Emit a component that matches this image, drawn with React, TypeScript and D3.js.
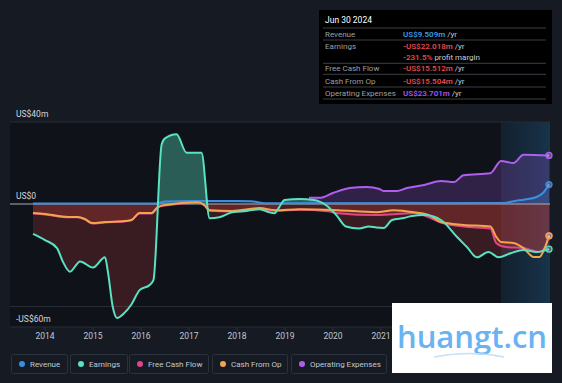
import React from "react";
import * as d3 from "d3";

type P = [number, number];

const revenue: P[] = [
  [2013.75, 0.3], [2016.3, 0.3], [2016.5, 1.2], [2017.0, 1.5], [2018.0, 1.5], [2018.3, 1.3],
  [2018.6, 0.4], [2023.55, 0.5], [2023.8, 1.5], [2024.0, 2.2], [2024.24, 3.4], [2024.38, 5.5], [2024.5, 9.5],
];

const earnings: P[] = [
  [2013.75, -14.6], [2014.0, -17.6], [2014.25, -21.5], [2014.37, -28], [2014.52, -33], [2014.73, -28],
  [2015.0, -31], [2015.25, -26], [2015.31, -33], [2015.41, -50], [2015.5, -55.6], [2015.66, -53],
  [2015.8, -49], [2015.97, -42], [2016.18, -39.5], [2016.26, -37], [2016.43, 29], [2016.5, 32],
  [2016.74, 34], [2016.95, 25], [2017.26, 25], [2017.43, -7], [2017.63, -6.5], [2017.9, -4],
  [2018.2, -3.4], [2018.47, -2.5], [2018.67, -4], [2018.78, -4.5], [2018.88, -1.5], [2018.99, 2],
  [2019.3, 2.4], [2019.6, 2], [2019.85, -0.5], [2020.07, -5.4], [2020.27, -11], [2020.54, -12],
  [2020.75, -11], [2020.9, -11.5], [2021.06, -11.7], [2021.23, -7.8], [2021.48, -6.8], [2021.64, -5.9],
  [2021.9, -5.4], [2022.25, -7.8], [2022.58, -16], [2022.79, -21], [2023.0, -26], [2023.24, -23.4],
  [2023.45, -26], [2023.7, -24], [2023.97, -22.4], [2024.24, -23.4], [2024.5, -22.0],
];

const freeCashFlow: P[] = [
  [2013.75, -4.6], [2014.0, -5.1], [2014.48, -6.5], [2014.68, -6.5], [2014.83, -7.5], [2014.98, -9.5],
  [2015.25, -9], [2015.66, -8.5], [2015.8, -8], [2015.97, -4.6], [2016.22, -4.6], [2016.35, -1.7],
  [2016.5, -0.7], [2017.18, 0.6], [2017.32, -0.7], [2017.43, -3.3], [2017.9, -3.7], [2018.47, -2.3],
  [2018.8, -3.3], [2019.3, -2.8], [2019.9, -3.5], [2020.1, -4.5], [2020.9, -5.4], [2021.27, -5],
  [2021.69, -4.4], [2022.0, -6.5], [2022.25, -9], [2022.72, -11], [2023.28, -12], [2023.4, -19],
  [2023.6, -21], [2023.97, -21.5], [2024.3, -23.4], [2024.42, -21], [2024.5, -15.5],
];

const cashFromOp: P[] = [
  [2013.75, -4.4], [2014.0, -4.9], [2014.48, -6.3], [2014.68, -6.3], [2014.83, -7.3], [2014.98, -9.3],
  [2015.25, -8.8], [2015.66, -8.3], [2015.8, -7.8], [2015.97, -4.4], [2016.22, -4.4], [2016.35, -1.5],
  [2016.5, -0.5], [2017.18, 0.8], [2017.32, -0.5], [2017.43, -3], [2017.9, -3.4], [2018.47, -2],
  [2018.8, -3], [2019.3, -2.5], [2020.1, -3], [2020.9, -4], [2021.27, -3], [2021.69, -4],
  [2022.0, -5.4], [2022.25, -8.8], [2022.72, -10.2], [2023.28, -11], [2023.4, -16], [2023.5, -18.5],
  [2023.76, -19], [2023.97, -21.5], [2024.18, -25.8], [2024.3, -25.8], [2024.42, -21], [2024.5, -15.5],
];

const operatingExpenses: P[] = [
  [2019.5, 3], [2019.72, 3], [2020.0, 5.4], [2020.35, 7.8], [2020.7, 8.3], [2020.97, 7.3],
  [2021.06, 6.3], [2021.33, 6.3], [2021.54, 7.8], [2021.9, 9.3], [2022.25, 11.2], [2022.52, 10.7],
  [2022.72, 14], [2023.28, 15], [2023.5, 21], [2023.76, 20], [2023.97, 24], [2024.5, 23.7],
];

const yearTicks = [2014, 2015, 2016, 2017, 2018, 2019, 2020, 2021];
const yLabels: { v: number; text: string }[] = [
  { v: 40, text: "US$40m" },
  { v: 0, text: "US$0" },
  { v: -60, text: "-US$60m" },
];
const gridValues = [40, -50];

const legendNames = ["Revenue", "Earnings", "Free Cash Flow", "Cash From Op", "Operating Expenses"];
const legendColors = ["#3a8fe0", "#58e2c2", "#e0458b", "#f3a54c", "#b05ef0"];

const tipTitle = "Jun 30 2024";
const tipRows: { label: string; value: string; color: string; suffix: string; sep: boolean }[] = [
  { label: "Revenue", value: "US$9.509m", color: "#3b9be6", suffix: " /yr", sep: true },
  { label: "Earnings", value: "-US$22.018m", color: "#e5484d", suffix: " /yr", sep: false },
  { label: "", value: "-231.5%", color: "#e5484d", suffix: " profit margin", sep: true },
  { label: "Free Cash Flow", value: "-US$15.512m", color: "#e5484d", suffix: " /yr", sep: true },
  { label: "Cash From Op", value: "-US$15.504m", color: "#e5484d", suffix: " /yr", sep: true },
  { label: "Operating Expenses", value: "US$23.701m", color: "#a855f7", suffix: " /yr", sep: true },
];

const W = 562;
const H = 383;
const FONT = "Roboto, 'Noto Sans', sans-serif";

export default function App() {
  const x = d3.scaleLinear().domain([2013.75, 2024.5]).range([33, 549]);
  const y = d3.scaleLinear().domain([-60, 40]).range([327, 122]);
  const y0 = y(0);

  const line = d3
    .line<P>()
    .x((d) => x(d[0]))
    .y((d) => y(d[1]))
    .curve(d3.curveMonotoneX);
  const area = d3
    .area<P>()
    .x((d) => x(d[0]))
    .y0(y0)
    .y1((d) => y(d[1]))
    .curve(d3.curveMonotoneX);

  const plotLeft = 10;
  const plotRight = 550;
  const hlX0 = x(2023.5);
  const hlX1 = plotRight;

  const series: { data: P[]; color: string }[] = [
    { data: revenue, color: legendColors[0] },
    { data: operatingExpenses, color: legendColors[4] },
    { data: freeCashFlow, color: legendColors[2] },
    { data: cashFromOp, color: legendColors[3] },
    { data: earnings, color: legendColors[1] },
  ];

  const legendX = [11, 70, 129, 212, 291];
  const legendW = [56, 57, 79, 75, 95];

  const tipX = 319;
  const tipY = 10;
  const rowY0 = 34;
  const rowStep = [0, 11.7, 11.6, 11, 12.7, 12];

  let acc = rowY0;
  const rowYs = tipRows.map((_, i) => {
    if (i > 0) acc += rowStep[i];
    return acc;
  });

  return (
    <div style={{ position: "absolute", left: 0, top: 0, width: W, height: H }}>
      <svg width={W} height={H} style={{ display: "block", fontFamily: FONT }}>
        <defs>
          <linearGradient id="hl" x1="0" x2="1" y1="0" y2="0">
            <stop offset="0" stopColor="#1b3a55" stopOpacity={0.35} />
            <stop offset="1" stopColor="#1d4a6e" stopOpacity={0.6} />
          </linearGradient>
          <clipPath id="above">
            <rect x={0} y={0} width={W} height={y0} />
          </clipPath>
          <clipPath id="below">
            <rect x={0} y={y0} width={W} height={H - y0} />
          </clipPath>
        </defs>
        <rect x={0} y={0} width={W} height={H} fill="#151a23" />
        <rect x={plotLeft} y={y(40)} width={plotRight - plotLeft} height={y(-60) - y(40)} fill="#0f1319" />
        <rect x={hlX0} y={y(40)} width={hlX1 - hlX0} height={y(-60) - y(40)} fill="url(#hl)" />

        {gridValues.map((v) => (
          <line key={v} x1={plotLeft} x2={plotRight} y1={y(v)} y2={y(v)} stroke="#262d38" strokeWidth={1} />
        ))}
        <line x1={plotLeft} x2={plotRight} y1={y(-60)} y2={y(-60)} stroke="#262d38" strokeWidth={1} />
        {yearTicks.map((t) => (
          <line key={t} x1={x(t)} x2={x(t)} y1={y(-60)} y2={y(-60) + 4} stroke="#2e3540" />
        ))}

        <path d={area(earnings) || ""} fill="#e0403f" opacity={0.2} clipPath="url(#below)" />
        <path d={area(freeCashFlow) || ""} fill="#e0403f" opacity={0.25} clipPath="url(#below)" />
        <path d={area(earnings) || ""} fill="#5ee0c4" opacity={0.36} clipPath="url(#above)" />
        <path d={area(operatingExpenses) || ""} fill="#a95ce8" opacity={0.22} clipPath="url(#above)" />
        <path d={area(revenue) || ""} fill="#3a8fe0" opacity={0.2} clipPath="url(#above)" />

        <line x1={plotLeft} x2={plotRight} y1={y0} y2={y0} stroke="#a8adb6" strokeWidth={1.2} />

        {series.map((s, i) => (
          <path key={i} d={line(s.data) || ""} fill="none" stroke={s.color} strokeWidth={2} strokeLinejoin="round" />
        ))}
        {series.map((s, i) => {
          const last = s.data[s.data.length - 1];
          return (
            <circle key={i} cx={x(last[0])} cy={y(last[1])} r={3} fill="#d8d0e8" fillOpacity={0.35} stroke={s.color} strokeWidth={1.3} />
          );
        })}

        {yLabels.map((l) => (
          <text
            key={l.v}
            x={16}
            y={l.v === 40 ? y(40) - 5 : l.v === 0 ? y0 - 5 : y(-60) - 5}
            fill="#d2d6dc"
            fontSize={8.5}
          >
            {l.text}
          </text>
        ))}
        {yearTicks.map((t) => (
          <text key={t} x={x(t)} y={339} fill="#c4c8ce" fontSize={8.5} textAnchor="middle">
            {t}
          </text>
        ))}

        <rect x={tipX} y={tipY} width={233} height={94} fill="#000000" />
        <text x={325} y={23} fill="#ffffff" fontSize={8.5}>
          {tipTitle}
        </text>
        <line x1={323} x2={546} y1={28} y2={28} stroke="#3a3f47" />
        {tipRows.map((r, i) => (
          <g key={i}>
            <text x={325} y={rowYs[i] + 3} fill="#9aa0a8" fontSize={8}>
              {r.label}
            </text>
            <text x={403} y={rowYs[i] + 3} fontSize={8}>
              <tspan fill={r.color} fontWeight={600}>{r.value}</tspan>
              <tspan fill="#c8ccd2">{r.suffix}</tspan>
            </text>
            {r.sep && (
              <line x1={323} x2={546} y1={rowYs[i] + 6} y2={rowYs[i] + 6} stroke="#3a3f47" />
            )}
          </g>
        ))}

        {legendNames.map((n, i) => (
          <g key={n}>
            <rect x={legendX[i] + 0.5} y={354.5} width={legendW[i]} height={19} rx={2} fill="none" stroke="#2b323d" />
            <circle cx={legendX[i] + 11} cy={364} r={3} fill={legendColors[i]} />
            <text x={legendX[i] + 19} y={367} fill="#c4c8ce" fontSize={8}>
              {n}
            </text>
          </g>
        ))}

        <rect x={392} y={303} width={160} height={70} fill="#ffffff" />
        <text x={472} y={348} textAnchor="middle" fill="#6ab3f2" fontSize={31} fontFamily="'Open Sans', sans-serif" fontWeight={600}>
          huangt.cn
        </text>
        <path d="M434,357 Q470,350 504,357" fill="none" stroke="#c3e1f8" strokeWidth={1.5} />
      </svg>
    </div>
  );
}
